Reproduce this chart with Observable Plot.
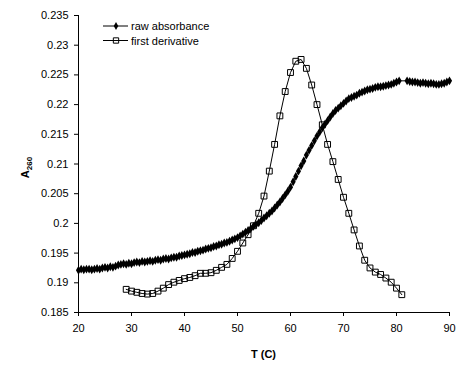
<!DOCTYPE html>
<html>
<head>
<meta charset="utf-8">
<script src="https://cdn.jsdelivr.net/npm/d3@7"></script>
<script src="https://cdn.jsdelivr.net/npm/@observablehq/plot@0.6"></script>
<style>
  html, body { margin: 0; padding: 0; background: white; }
  #chart { width: 463px; height: 375px; }
</style>
</head>
<body>
<div id="chart"></div>
<script>
// Raw absorbance: temperature (C) and A260
const rawT = [20,20.5,21,21.5,22,22.5,23,23.5,24,24.5,25,25.5,26,26.5,27,27.5,28,28.5,29,29.5,
  30,30.5,31,31.5,32,32.5,33,33.5,34,34.5,35,35.5,36,36.5,37,37.5,38,38.5,39,39.5,
  40,40.5,41,41.5,42,42.5,43,43.5,44,44.5,45,45.5,46,46.5,47,47.5,48,48.5,49,49.5,
  50,50.5,51,51.5,52,52.5,53,53.5,54,54.5,55,55.5,56,56.5,57,57.5,58,58.5,59,59.5,
  60,60.5,61,61.5,62,62.5,63,63.5,64,64.5,65,65.5,66,66.5,67,67.5,68,68.5,69,69.5,
  70,70.5,71,71.5,72,72.5,73,73.5,74,74.5,75,75.5,76,76.5,77,77.5,78,78.5,79,79.5,
  80,80.5,82,82.5,83,83.5,84,84.5,85,85.5,86,86.5,87,87.5,88,88.5,89,89.5,90];
const rawA = [0.1921,0.1923,0.1922,0.1923,0.1923,0.1922,0.1923,0.1924,0.1923,0.1925,
  0.1926,0.1925,0.1927,0.1926,0.1928,0.1930,0.1931,0.1932,0.1931,0.1933,
  0.1932,0.1934,0.1935,0.1934,0.1936,0.1935,0.1936,0.1937,0.1936,0.1938,
  0.1939,0.1938,0.1940,0.1941,0.1940,0.1942,0.1943,0.1943,0.1945,0.1946,
  0.1947,0.1948,0.1949,0.1951,0.1951,0.1953,0.1954,0.1955,0.1957,0.1958,
  0.1959,0.1961,0.1962,0.1964,0.1965,0.1967,0.1968,0.1970,0.1972,0.1974,
  0.1976,0.1979,0.1982,0.1985,0.1988,0.1991,0.1995,0.1998,0.2001,0.2005,
  0.2009,0.2013,0.2017,0.2021,0.2026,0.2031,0.2036,0.2042,0.2048,0.2054,
  0.2061,0.2070,0.2079,0.2088,0.2097,0.2105,0.2115,0.2123,0.2131,0.2139,
  0.2147,0.2154,0.2161,0.2167,0.2173,0.2179,0.2185,0.2190,0.2194,0.2198,
  0.2202,0.2206,0.2210,0.2212,0.2214,0.2216,0.2219,0.2221,0.2223,0.2225,
  0.2226,0.2227,0.2229,0.2230,0.2230,0.2231,0.2232,0.2233,0.2234,0.2236,
  0.2238,0.2240,0.2240,0.2239,0.2238,0.2238,0.2237,0.2236,0.2237,0.2236,
  0.2235,0.2236,0.2235,0.2234,0.2234,0.2235,0.2236,0.2238,0.2240];

// First derivative (scaled onto the same axis)
const derivT = [29,30,31,32,33,34,35,36,37,38,39,40,41,42,43,44,45,46,47,48,49,
  50,51,52,53,54,55,56,57,58,59,60,61,62,63,64,65,66,67,68,69,
  70,71,72,73,74,75,76,77,78,79,80,81];
const derivA = [0.1889,0.1886,0.1884,0.1882,0.1881,0.1882,0.1886,0.1891,0.1897,0.1901,0.1904,
  0.1907,0.1909,0.1912,0.1916,0.1916,0.1917,0.1921,0.1926,0.1931,0.1941,
  0.1953,0.1967,0.1981,0.1996,0.2017,0.2046,0.2088,0.2133,0.2181,0.2222,
  0.2254,0.2273,0.2276,0.2261,0.2233,0.2200,0.2166,0.2133,0.2104,0.2074,
  0.2044,0.2017,0.1989,0.1962,0.1938,0.1925,0.1918,0.1914,0.1908,0.1901,
  0.1891,0.1880];

const xTicks = [20,30,40,50,60,70,80,90];
const yTicks = [0.185,0.19,0.195,0.2,0.205,0.21,0.215,0.22,0.225,0.23,0.235];
const seriesNames = ["raw absorbance", "first derivative"];
const xLabel = "T (C)";

const raw = rawT.map((t,i) => ({t, a: rawA[i]}));
const deriv = derivT.map((t,i) => ({t, a: derivA[i]}));

const font = "'Liberation Sans', Arial, sans-serif";

const plot = Plot.plot({
  width: 463,
  height: 375,
  marginLeft: 78,
  marginRight: 14,
  marginTop: 15,
  marginBottom: 63,
  style: {fontFamily: font, fontSize: "11px", background: "white", color: "black", overflow: "visible"},
  x: {domain: [20, 90], ticks: xTicks, tickSize: 4, tickPadding: 8, label: null},
  y: {domain: [0.185, 0.235], ticks: yTicks, tickSize: 4, tickPadding: 6, label: null,
      tickFormat: d => String(+d.toFixed(3))},
  marks: [
    Plot.ruleX([20], {stroke: "black"}),
    Plot.ruleY([0.185], {stroke: "black"}),
    Plot.line(deriv, {x: "t", y: "a", stroke: "black", strokeWidth: 1}),
    Plot.dot(deriv, {x: "t", y: "a", symbol: "square", r: 3.3, fill: "none", stroke: "black", strokeWidth: 1}),
    Plot.line(raw, {x: "t", y: "a", stroke: "black", strokeWidth: 1}),
    Plot.dot(raw, {x: "t", y: "a", symbol: "diamond", r: 2.7, fill: "black", stroke: "none"})
  ]
});
document.getElementById("chart").appendChild(plot);

const svg = d3.select(plot);
const xs = plot.scale("x"), ys = plot.scale("y");
const xMid = (xs.range[0] + xs.range[1]) / 2;
const yMid = (ys.range[0] + ys.range[1]) / 2;

// x label
svg.append("text")
  .attr("x", xMid).attr("y", 358)
  .attr("text-anchor", "middle")
  .style("font-family", font).style("font-size", "11px").style("font-weight", "bold")
  .text(xLabel);

// y label A260 (subscript)
const yl = svg.append("text")
  .attr("transform", `translate(29,${yMid + 4}) rotate(-90)`)
  .attr("text-anchor", "middle")
  .style("font-family", font).style("font-size", "11px").style("font-weight", "bold");
yl.append("tspan").text("A");
yl.append("tspan").attr("dy", 3).style("font-size", "8px").text("260");

// legend
const leg = svg.append("g").style("font-family", font).style("font-size", "11px");
const sq = d3.symbol(d3.symbolSquare, Math.PI * 3.0 * 3.0);
const di = d3.symbol(d3.symbolDiamond, Math.PI * 2.4 * 2.4);
[[26, "raw"], [40.5, "deriv"]].forEach(([yy, kind], i) => {
  leg.append("line").attr("x1", 103).attr("x2", 128).attr("y1", yy).attr("y2", yy).attr("stroke", "black");
  if (kind === "raw") {
    leg.append("path").attr("d", di()).attr("transform", `translate(116,${yy})`).attr("fill", "black");
  } else {
    leg.append("path").attr("d", sq()).attr("transform", `translate(116,${yy})`).attr("fill", "none").attr("stroke", "black");
  }
  leg.append("text").attr("x", 131).attr("y", yy + 4)
    .attr("text-anchor", "start").style("text-anchor", "start")
    .text(seriesNames[i]);
});
</script>
</body>
</html>
